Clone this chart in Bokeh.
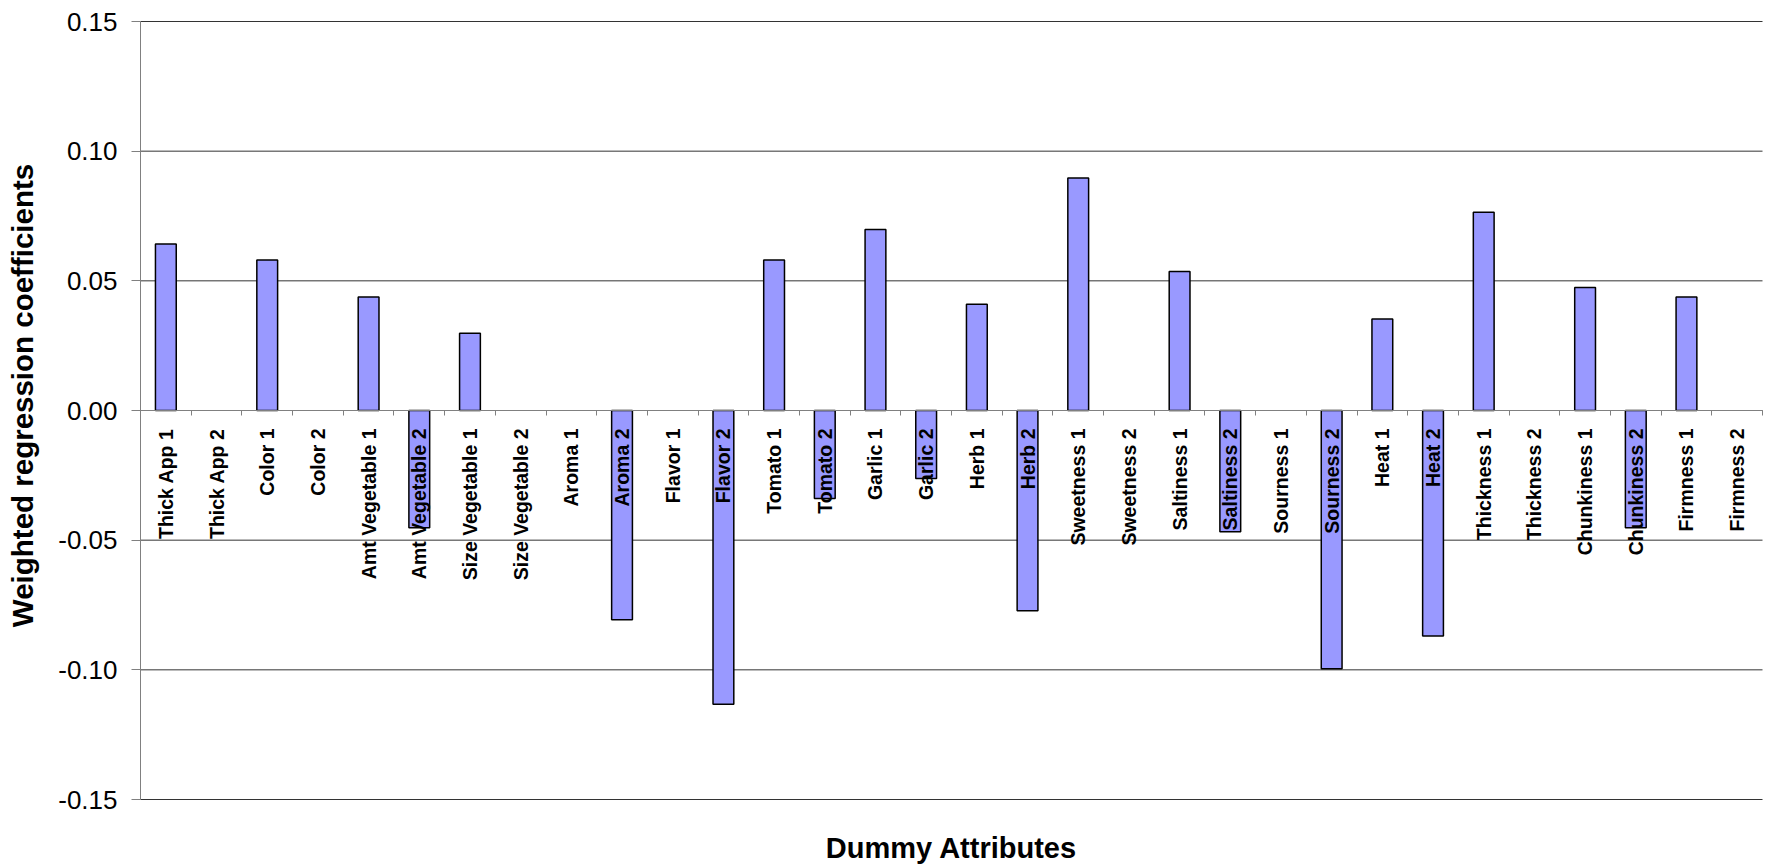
from math import pi
from bokeh.plotting import figure
from bokeh.models import (Range1d, LinearAxis, FixedTicker,
                          NumeralTickFormatter, Label, ColumnDataSource)
from bokeh.embed import file_html
from bokeh.resources import INLINE

categories = ["Thick App 1", "Thick App 2", "Color 1", "Color 2",
              "Amt Vegetable 1", "Amt Vegetable 2", "Size Vegetable 1", "Size Vegetable 2",
              "Aroma 1", "Aroma 2", "Flavor 1", "Flavor 2",
              "Tomato 1", "Tomato 2", "Garlic 1", "Garlic 2",
              "Herb 1", "Herb 2", "Sweetness 1", "Sweetness 2",
              "Saltiness 1", "Saltiness 2", "Sourness 1", "Sourness 2",
              "Heat 1", "Heat 2", "Thickness 1", "Thickness 2",
              "Chunkiness 1", "Chunkiness 2", "Firmness 1", "Firmness 2"]
values = [0.0642, 0.0, 0.0580, 0.0, 0.0438, -0.0452, 0.0298, 0.0,
          0.0, -0.0807, 0.0, -0.1133, 0.0580, -0.0339, 0.0698, -0.0262,
          0.0410, -0.0772, 0.0897, 0.0, 0.0536, -0.0468, 0.0, -0.0996,
          0.0353, -0.0870, 0.0764, 0.0, 0.0474, -0.0452, 0.0438, 0.0]
y_ticks = [-0.15, -0.10, -0.05, 0.0, 0.05, 0.10, 0.15]
x_title = "Dummy Attributes"
y_title = "Weighted regression coefficients"

FONT = "Liberation Sans"
n = len(categories)
centers = [i + 0.5 for i in range(n)]
y_lo, y_hi = y_ticks[0], y_ticks[-1]

# canvas size and plot-area margins (pixels)
W, H = 1769, 865
ML, MR, MT, MB = 140, 7, 21, 66
px_x = (W - ML - MR) / n
px_y = (H - MT - MB) / (y_hi - y_lo)

p = figure(width=W, height=H,
           x_range=Range1d(-ML / px_x, n + MR / px_x),
           y_range=Range1d(y_lo - MB / px_y, y_hi + MT / px_y),
           output_backend="svg", toolbar_location=None,
           x_axis_location=None, y_axis_location=None,
           min_border=0)
p.outline_line_color = None
p.background_fill_color = "white"
p.border_fill_color = "white"
p.grid.visible = False

# horizontal gridlines across the plot area
p.segment(x0=[0] * len(y_ticks), x1=[n] * len(y_ticks), y0=y_ticks, y1=y_ticks,
          line_color="#333333", line_width=1)

# bars (zero-valued reference levels are not drawn)
keep = [i for i, v in enumerate(values) if v != 0]
src = ColumnDataSource(dict(x=[centers[i] for i in keep],
                            val=[values[i] for i in keep],
                            cat=[categories[i] for i in keep]))
p.vbar(x="x", top="val", bottom=0, width=0.41, source=src,
       fill_color="#9999FF", line_color="#000000", line_width=1.5)

# y axis
yax = LinearAxis(fixed_location=0, bounds=(y_lo, y_hi),
                 ticker=FixedTicker(ticks=y_ticks),
                 formatter=NumeralTickFormatter(format="0.00"),
                 major_tick_out=9, major_tick_in=0,
                 minor_tick_line_color=None,
                 axis_line_color="#808080", major_tick_line_color="#808080",
                 major_label_text_font=FONT, major_label_text_font_size="26px",
                 major_label_text_color="#000000", major_label_standoff=14)
p.add_layout(yax, "left")

# tick marks between categories at y = 0
tick_axis = LinearAxis(fixed_location=0, bounds=(0, n),
                       ticker=FixedTicker(ticks=list(range(n + 1))),
                       major_tick_out=5, major_tick_in=0,
                       major_label_text_color=None,
                       axis_line_color="#808080", major_tick_line_color="#808080",
                       minor_tick_line_color=None)
p.add_layout(tick_axis, "below")

# category labels hanging below the zero line
cat_axis = LinearAxis(fixed_location=0, bounds=(0, n),
                      ticker=FixedTicker(ticks=centers),
                      major_label_overrides={c: name for c, name in zip(centers, categories)},
                      major_label_orientation=pi / 2,
                      major_tick_out=0, major_tick_in=0,
                      major_tick_line_color=None, minor_tick_line_color=None,
                      axis_line_color=None,
                      major_label_text_font=FONT,
                      major_label_text_font_style="bold",
                      major_label_text_font_size="19.5px",
                      major_label_text_color="#000000",
                      major_label_standoff=18)
p.add_layout(cat_axis, "below")

# axis titles
p.add_layout(Label(x=n / 2, y=y_lo, y_offset=-48, text=x_title,
                   text_align="center", text_baseline="alphabetic",
                   text_font=FONT, text_font_style="bold", text_font_size="29px",
                   text_color="#000000"))
p.add_layout(Label(x=0, y=0.0058, x_offset=-118.5, angle=pi / 2, text=y_title,
                   text_align="center", text_baseline="alphabetic",
                   text_font=FONT, text_font_style="bold", text_font_size="29.5px",
                   text_color="#000000"))

open("out.html", "w").write(file_html(p, INLINE))
